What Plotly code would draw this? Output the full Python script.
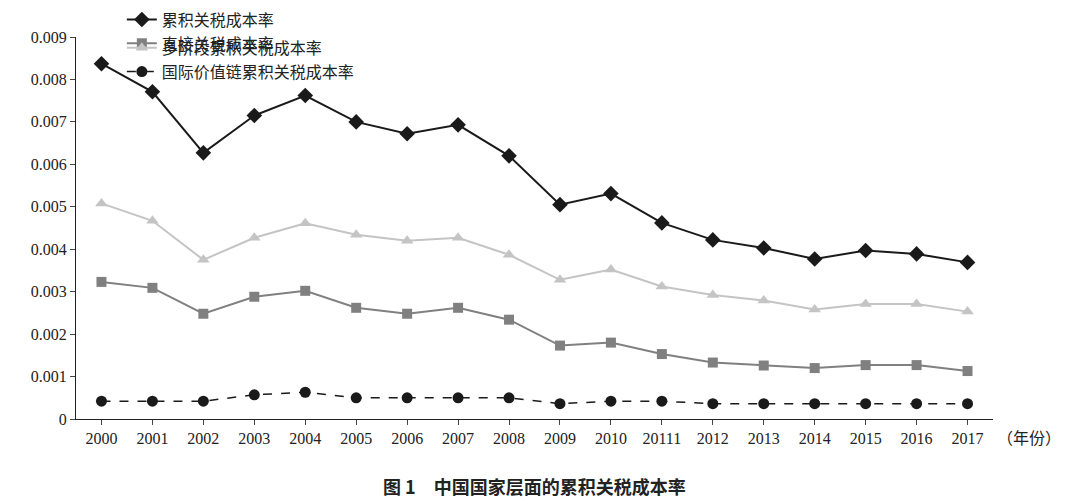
import plotly.graph_objects as go

years = ["2000", "2001", "2002", "2003", "2004", "2005", "2006", "2007", "2008",
         "2009", "2010", "2011", "2012", "2013", "2014", "2015", "2016", "2017"]
year_labels = years[:11] + ["20111"] + years[12:]

cumulative = [0.00837, 0.00771, 0.00627, 0.00715, 0.00762, 0.00700, 0.00672, 0.00693, 0.00620,
              0.00505, 0.00531, 0.00462, 0.00422, 0.00403, 0.00377, 0.00397, 0.00389, 0.00369]
direct = [0.00323, 0.00309, 0.00248, 0.00288, 0.00302, 0.00262, 0.00248, 0.00262, 0.00234,
          0.00173, 0.00180, 0.00153, 0.00133, 0.00126, 0.00120, 0.00127, 0.00127, 0.00113]
multistage = [0.00508, 0.00467, 0.00375, 0.00427, 0.00461, 0.00434, 0.00420, 0.00427, 0.00387,
              0.00328, 0.00352, 0.00312, 0.00292, 0.00279, 0.00258, 0.00271, 0.00271, 0.00253]
gvc = [0.00042, 0.00042, 0.00042, 0.00057, 0.00063, 0.00050, 0.00050, 0.00050, 0.00050,
       0.00036, 0.00042, 0.00042, 0.00036, 0.00036, 0.00036, 0.00036, 0.00036, 0.00036]

yticks = [i / 1000 for i in range(10)]
yticklabels = ["0"] + [f"{v:.3f}" for v in yticks[1:]]

serif = "Liberation Serif"
cjk = "Noto Sans CJK SC"

fig = go.Figure()
fig.add_trace(go.Scatter(x=years, y=cumulative, name="累积关税成本率", mode="lines+markers",
                         line=dict(color="#1a1a1a", width=2), legend="legend",
                         marker=dict(symbol="diamond", size=12, color="#1a1a1a")))
fig.add_trace(go.Scatter(x=years, y=direct, name="直接关税成本率", mode="lines+markers",
                         line=dict(color="#808080", width=2), legend="legend",
                         marker=dict(symbol="square", size=10, color="#808080")))
fig.add_trace(go.Scatter(x=years, y=multistage, name="多阶段累积关税成本率", mode="lines+markers",
                         line=dict(color="#c4c4c4", width=2), legend="legend2",
                         marker=dict(symbol="triangle-up", size=11, color="#c4c4c4")))
fig.add_trace(go.Scatter(x=years, y=gvc, name="国际价值链累积关税成本率", mode="lines+markers",
                         line=dict(color="#1a1a1a", width=1.5, dash="dash"), legend="legend2",
                         marker=dict(symbol="circle", size=11, color="#1a1a1a")))

fig.add_annotation(text="（年份）", x=1.0, y=0, xref="paper", yref="paper", xanchor="left",
                   yanchor="top", yshift=-4, xshift=2, showarrow=False,
                   font=dict(size=16, family=cjk, color="#222"))
fig.add_annotation(text="<b>图 1　中国国家层面的累积关税成本率</b>", x=0.5, y=0, xref="paper",
                   yref="paper", yanchor="top", yshift=-52, showarrow=False,
                   font=dict(size=18, family=cjk, color="#222"))

legend_style = dict(orientation="h", xanchor="left", yanchor="top", entrywidth=470,
                    entrywidthmode="pixels", bgcolor="rgba(0,0,0,0)",
                    font=dict(family=cjk, size=16, color="#222"))

fig.update_layout(
    width=1080, height=502, plot_bgcolor="white", paper_bgcolor="white",
    margin=dict(l=68, r=95, t=29, b=91, autoexpand=False),
    font=dict(family=serif, size=16, color="#222"),
    legend=dict(x=0.05, y=1.09, **legend_style),
    legend2=dict(x=0.05, y=1.016, **legend_style),
)
fig.update_xaxes(type="category", tickvals=years, ticktext=year_labels, range=[-0.5, 17.5],
                 showline=True, linecolor="#222", ticks="outside", ticklen=5, showgrid=False,
                 tickfont=dict(size=16, family=serif))
fig.update_yaxes(range=[0, 0.009], tickvals=yticks, ticktext=yticklabels, showline=True,
                 linecolor="#222", ticks="outside", ticklen=5, showgrid=False, zeroline=False,
                 tickfont=dict(size=16, family=serif))

fig.write_html("out.html")
